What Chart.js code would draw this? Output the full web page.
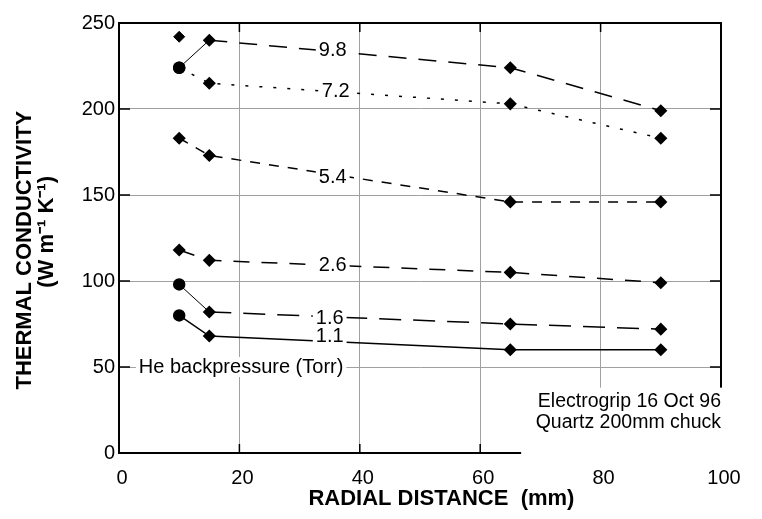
<!DOCTYPE html>
<html>
<head>
<meta charset="utf-8">
<script src="https://cdn.jsdelivr.net/npm/chart.js@4.4.1/dist/chart.umd.min.js"></script>
<style>
    html, body { margin: 0; padding: 0; background: #fff; }
    #wrap { width: 762px; height: 519px; }
</style>
</head>
<body>
<div id="wrap"><canvas id="Chart1"></canvas></div>
<script>
// radial positions of the measurements (mm)
var radius = [10, 15, 65, 90];
// thermal conductivity per He backpressure (Torr)
var k98 = [224, 240, 224, 199];
var k72 = [224, 215, 203, 183];
var k54 = [183, 173, 146, 146];
var k26 = [118, 112, 105, 99];
var k16 = [98, 82, 75, 72];
var k11 = [80, 68, 60, 60];
var strayPoint = [242];
var pressures = ['9.8', '7.2', '5.4', '2.6', '1.6', '1.1'];
var xTicks = [0, 20, 40, 60, 80, 100];
var yTicks = [0, 50, 100, 150, 200, 250];
var noteLines = ['Electrogrip 16 Oct 96', 'Quartz 200mm chuck'];

// where the pressure labels sit on the curves (data units)
var labelAt = [[35.5, 234], [36, 210], [35.5, 160], [35.5, 109], [35, 78], [35, 68]];

var FONT = '"Liberation Sans", Arial, sans-serif';

function toPoints(ys) {
    return radius.map(function (r, i) { return { x: r, y: ys[i] }; });
}

function curve(label, ys, dash, firstSolid, firstCircle) {
    return {
        label: label,
        data: toPoints(ys),
        showLine: true,
        borderColor: '#000',
        borderWidth: 1.5,
        pointStyle: [firstCircle ? 'circle' : 'rectRot', 'rectRot', 'rectRot', 'rectRot'],
        pointRadius: 5.5,
        pointBackgroundColor: '#000',
        pointBorderColor: '#000',
        segment: {
            borderDash: function (ctx) { return firstSolid && ctx.p0DataIndex === 0 ? [] : dash; },
            borderWidth: function (ctx) { return firstSolid && ctx.p0DataIndex === 0 ? 1 : 1.5; }
        }
    };
}

var decorations = {
    id: 'decorations',
    afterDatasetsDraw: function (chart) {
        var ctx = chart.ctx, a = chart.chartArea, x = chart.scales.x, y = chart.scales.y;
        ctx.save();
        // top and right frame
        ctx.strokeStyle = '#000';
        ctx.lineWidth = 2;
        ctx.beginPath();
        ctx.moveTo(a.left, a.top);
        ctx.lineTo(a.right, a.top);
        ctx.lineTo(a.right, a.bottom);
        ctx.stroke();
        // inside tick marks
        ctx.lineWidth = 1.5;
        ctx.beginPath();
        [20, 40, 60, 80].forEach(function (v) {
            var px = x.getPixelForValue(v);
            ctx.moveTo(px, a.top); ctx.lineTo(px, a.top + 9);
            ctx.moveTo(px, a.bottom); ctx.lineTo(px, a.bottom - 9);
        });
        [50, 100, 150, 200].forEach(function (v) {
            var py = y.getPixelForValue(v);
            ctx.moveTo(a.left, py); ctx.lineTo(a.left + 11, py);
            ctx.moveTo(a.right, py); ctx.lineTo(a.right - 11, py);
        });
        ctx.stroke();

        // pressure labels on the curves
        ctx.font = '20px ' + FONT;
        ctx.textBaseline = 'middle';
        ctx.textAlign = 'center';
        pressures.forEach(function (p, i) {
            var px = x.getPixelForValue(labelAt[i][0]);
            var py = y.getPixelForValue(labelAt[i][1]);
            var w = ctx.measureText(p).width;
            ctx.fillStyle = '#fff';
            ctx.fillRect(px - w / 2 - 3, py - 9, w + 6, 18);
            ctx.fillStyle = '#000';
            ctx.fillText(p, px, py);
        });

        // legend caption
        var hx = x.getPixelForValue(3.3), hy = y.getPixelForValue(50);
        ctx.textAlign = 'left';
        var hw = ctx.measureText('He backpressure (Torr)').width;
        ctx.fillStyle = '#fff';
        ctx.fillRect(hx - 3, hy - 10, hw + 6, 20);
        ctx.fillStyle = '#000';
        ctx.fillText('He backpressure (Torr)', hx, hy);

        // note box in the lower right corner
        var bx = x.getPixelForValue(66.8), by = y.getPixelForValue(38);
        ctx.fillStyle = '#fff';
        ctx.fillRect(bx, by, chart.width - bx, a.bottom + 6 - by);
        ctx.fillStyle = '#000';
        ctx.textAlign = 'right';
        ctx.font = '19.5px ' + FONT;
        ctx.fillText(noteLines[0], a.right, y.getPixelForValue(30));
        ctx.fillText(noteLines[1], a.right, y.getPixelForValue(17.5));
        ctx.restore();
    }
};

var ctx = document.getElementById('Chart1').getContext('2d');
var Chart1 = new Chart(ctx, {
    type: 'scatter',
    data: {
        datasets: [
            curve('9.8', k98, [18, 12], true, true),
            curve('7.2', k72, [3, 11], false, true),
            curve('5.4', k54, [10, 9], false, false),
            curve('2.6', k26, [16, 12], false, false),
            curve('1.6', k16, [22, 12], true, true),
            curve('1.1', k11, [], false, true),
            {
                label: 'extra',
                data: [{ x: radius[0], y: strayPoint[0] }],
                showLine: false,
                pointStyle: 'rectRot',
                pointRadius: 5.5,
                pointBackgroundColor: '#000',
                pointBorderColor: '#000'
            }
        ]
    },
    options: {
        animation: false,
        responsive: true,
        maintainAspectRatio: false,
        layout: { padding: { top: 23, right: 41, left: 0, bottom: 0 } },
        plugins: {
            legend: { display: false },
            tooltip: { enabled: false }
        },
        scales: {
            x: {
                type: 'linear',
                min: 0,
                max: 100,
                afterBuildTicks: function (scale) {
                    scale.ticks = xTicks.map(function (v) { return { value: v }; });
                },
                afterFit: function (scale) { scale.height = 66; },
                ticks: {
                    color: '#000',
                    font: { family: FONT, size: 20 },
                    padding: 13,
                    labelOffset: 3,
                    maxRotation: 0
                },
                grid: { color: '#a0a0a0', lineWidth: 1, drawTicks: false },
                border: { color: '#000', width: 2 },
                title: {
                    display: true,
                    text: '       RADIAL DISTANCE  (mm)',
                    color: '#000',
                    font: { family: FONT, size: 22, weight: 'bold' },
                    padding: { top: 0, bottom: 7 }
                }
            },
            y: {
                type: 'linear',
                min: 0,
                max: 250,
                afterBuildTicks: function (scale) {
                    scale.ticks = yTicks.map(function (v) { return { value: v }; });
                },
                afterFit: function (scale) { scale.width = 119; },
                ticks: {
                    color: '#000',
                    font: { family: FONT, size: 20 },
                    padding: 4
                },
                grid: { color: '#a0a0a0', lineWidth: 1, drawTicks: false },
                border: { color: '#000', width: 2 },
                title: {
                    display: true,
                    text: ['THERMAL CONDUCTIVITY    ', '  (W m\u207B\u00B9 K\u207B\u00B9)'],
                    color: '#000',
                    font: { family: FONT, size: 22, weight: 'bold', lineHeight: 1.0 },
                    padding: { top: 14, bottom: 0 }
                }
            }
        }
    },
    plugins: [decorations]
});
</script>
</body>
</html>
